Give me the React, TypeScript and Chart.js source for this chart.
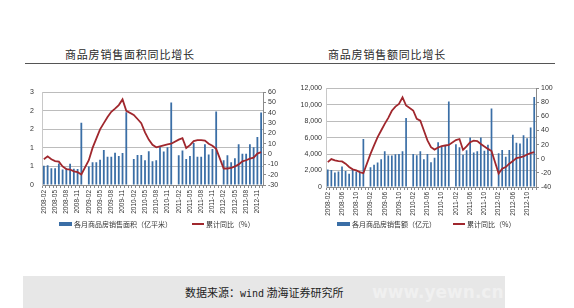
import React, { useEffect, useRef } from "react";
import { Chart, registerables } from "chart.js";

Chart.register(...registerables);

// Monthly categories, 2008-02 .. 2012-12 (January figures are merged into February)
const months = [
  "2008-02", "2008-03", "2008-04", "2008-05", "2008-06", "2008-07", "2008-08", "2008-09", "2008-10", "2008-11", "2008-12",
  "2009-01", "2009-02", "2009-03", "2009-04", "2009-05", "2009-06", "2009-07", "2009-08", "2009-09", "2009-10", "2009-11", "2009-12",
  "2010-01", "2010-02", "2010-03", "2010-04", "2010-05", "2010-06", "2010-07", "2010-08", "2010-09", "2010-10", "2010-11", "2010-12",
  "2011-01", "2011-02", "2011-03", "2011-04", "2011-05", "2011-06", "2011-07", "2011-08", "2011-09", "2011-10", "2011-11", "2011-12",
  "2012-01", "2012-02", "2012-03", "2012-04", "2012-05", "2012-06", "2012-07", "2012-08", "2012-09", "2012-10", "2012-11", "2012-12",
];

// 各月商品房销售面积（亿平米）
const areaMonthly = [
  0.52, 0.53, 0.45, 0.45, 0.58, 0.42, 0.45, 0.57, 0.44, 0.43, 1.68,
  null, 0.50, 0.61, 0.61, 0.68, 0.94, 0.76, 0.76, 0.87, 0.78, 0.86, 1.96,
  null, 0.70, 0.81, 0.81, 0.67, 0.91, 0.64, 0.67, 1.05, 0.90, 1.02, 2.22,
  null, 0.80, 0.93, 0.70, 0.78, 1.13, 0.76, 0.76, 1.10, 0.82, 0.97, 1.98,
  null, 0.67, 0.80, 0.61, 0.72, 1.10, 0.84, 0.84, 1.10, 1.02, 1.29, 1.95,
];

// 销售面积累计同比（%）
const areaYoY = [
  -5, -2.2, -5, -6.8, -7.4, -12, -14.5, -15, -16.7, -17.6, -19.8,
  null, -6, 6, 15, 24, 30, 36, 41, 44, 47.5, 53, 42,
  null, 38, 34, 30, 21, 14, 9, 6.5, 7.5, 8.5, 9.5, 10,
  null, 14, 15.4, 5.8, 8.6, 12.6, 13.5, 13.5, 13, 10, 8, 5,
  null, -14, -14, -13.5, -12, -10, -7, -6, -4.5, -3.5, 0.5, 1.8,
];

// 各月商品房销售额（亿元）
const salesMonthly = [
  2130, 2050, 1770, 1890, 2500, 1930, 1610, 2090, 1890, 1810, 5840,
  null, 2410, 2700, 2980, 3380, 4350, 3820, 3820, 3980, 4020, 4350, 8370,
  null, 4020, 3860, 4350, 3380, 4020, 3020, 3540, 5430, 4900, 5110, 10380,
  null, 5180, 4840, 3930, 4470, 6010, 4180, 4350, 6010, 4400, 5140, 9520,
  null, 4100, 4500, 3670, 4480, 6350, 5380, 5280, 6290, 5910, 7220, 10930,
];

// 销售额累计同比（%）
const salesYoY = [
  -4.7, -0.5, -2.3, -3.3, -3.7, -7, -11.7, -15, -16.5, -18.8, -20.5,
  null, 7, 19, 30.7, 40, 49.5, 58, 68, 74, 77.8, 87, 75.5,
  null, 68.4, 56.6, 54, 40, 26, 16.5, 13, 16, 18, 18.8, 19.5,
  null, 26.5, 28, 12.5, 17.5, 23.5, 25.8, 25, 21, 17.4, 14, 11,
  null, -21, -14, -11.8, -7, -3.3, 1, 2, 3.3, 6, 8, 9.5,
];

// Left-axis tick text of the area chart (0 .. 2.5 in steps of 0.5, shown without decimals)
const areaAxisLabels = ["0", "1", "1", "2", "2", "3"];

const BAR_COLOR = "#3a6ea6";
const LINE_COLOR = "#a0272d";
const TICK_FONT = "'Liberation Sans', Arial, sans-serif";
const CJK_FONT = "'Noto Sans CJK SC', 'Noto Sans', sans-serif";

type AxisSpec = {
  min: number;
  max: number;
  step: number;
  label: (v: number, i: number) => string;
};

type ComboProps = {
  left: number;
  top: number;
  width: number;
  height: number;
  bars: (number | null)[];
  line: (number | null)[];
  labelEvery: number;
  yLeft: AxisSpec;
  yRight: AxisSpec;
  leftWidth: number;
  rightWidth: number;
  xHeight: number;
  leftPad: number;
};

function ComboChart(p: ComboProps) {
  const ref = useRef<HTMLCanvasElement | null>(null);

  useEffect(() => {
    if (!ref.current) return;
    const chart = new Chart(ref.current, {
      type: "bar",
      data: {
        labels: months,
        datasets: [
          {
            type: "line",
            data: p.line,
            yAxisID: "y1",
            borderColor: LINE_COLOR,
            borderWidth: 1.8,
            pointRadius: 0,
            spanGaps: true,
            tension: 0,
            order: 0,
          } as any,
          {
            type: "bar",
            data: p.bars,
            yAxisID: "y",
            backgroundColor: BAR_COLOR,
            categoryPercentage: 1,
            barPercentage: 0.48,
            order: 1,
          } as any,
        ],
      },
      options: {
        responsive: false,
        animation: false,
        layout: { padding: { top: 8, left: 0, right: 0, bottom: 0 } },
        plugins: { legend: { display: false }, tooltip: { enabled: false } },
        scales: {
          x: {
            grid: { display: true, drawOnChartArea: false, tickLength: 3, color: "#8a8a8a" },
            border: { color: "#8a8a8a" },
            ticks: {
              autoSkip: false,
              minRotation: 90,
              maxRotation: 90,
              padding: 2,
              color: "#333",
              font: { size: 6.5, family: TICK_FONT },
              callback: (_v: any, i: number) => (i % p.labelEvery === 0 ? months[i] : ""),
            },
            afterFit: (s: any) => {
              s.height = p.xHeight;
            },
          },
          y: {
            position: "left",
            min: p.yLeft.min,
            max: p.yLeft.max,
            ticks: {
              autoSkip: false,
              stepSize: p.yLeft.step,
              padding: p.leftPad,
              color: "#333",
              font: { size: 7, family: TICK_FONT },
              callback: (v: any, i: number) => p.yLeft.label(Number(v), i),
            },
            grid: { color: "#bcbcbc", drawTicks: false, lineWidth: 1 },
            border: { display: true, color: "#c8c8c8" },
            afterFit: (s: any) => {
              s.width = p.leftWidth;
            },
          },
          y1: {
            position: "right",
            min: p.yRight.min,
            max: p.yRight.max,
            ticks: {
              autoSkip: false,
              stepSize: p.yRight.step,
              padding: 2,
              color: "#333",
              font: { size: 7, family: TICK_FONT },
              callback: (v: any, i: number) => p.yRight.label(Number(v), i),
            },
            grid: { drawOnChartArea: false, tickLength: 3, color: "#8a8a8a" },
            border: { color: "#8a8a8a" },
            afterFit: (s: any) => {
              s.width = p.rightWidth;
            },
          },
        },
      } as any,
    });
    return () => chart.destroy();
  }, []);

  return (
    <canvas
      ref={ref}
      width={p.width}
      height={p.height}
      style={{ position: "absolute", left: p.left, top: p.top, width: p.width, height: p.height, display: "block" }}
    />
  );
}

function Legend({ x, y, barText, lineX, lineText }: { x: number; y: number; barText: string; lineX: number; lineText: string }) {
  const text: React.CSSProperties = {
    position: "absolute",
    top: y - 5,
    fontSize: 7,
    lineHeight: "10px",
    fontFamily: CJK_FONT,
    color: "#333",
    whiteSpace: "nowrap",
  };
  return (
    <>
      <div style={{ position: "absolute", left: x, top: y - 2, width: 13, height: 4, background: BAR_COLOR }} />
      <div style={{ ...text, left: x + 15 }}>{barText}</div>
      <div style={{ position: "absolute", left: lineX, top: y - 1, width: 12, height: 1.6, background: LINE_COLOR }} />
      <div style={{ ...text, left: lineX + 14 }}>{lineText}</div>
    </>
  );
}

export default function App() {
  const title: React.CSSProperties = {
    position: "absolute",
    top: 46,
    fontSize: 11,
    lineHeight: "16px",
    letterSpacing: 0.8,
    fontFamily: CJK_FONT,
    color: "#2a2a2a",
    whiteSpace: "nowrap",
  };
  return (
    <div
      style={{
        position: "fixed",
        left: 0,
        top: 0,
        width: 574,
        height: 308,
        background: "#fff",
        overflow: "hidden",
      }}
    >
      <div style={{ ...title, left: 65 }}>商品房销售面积同比增长</div>
      <div style={{ ...title, left: 328 }}>商品房销售额同比增长</div>
      <div style={{ position: "absolute", left: 25, top: 63, width: 530, height: 1, background: "#555" }} />

      <ComboChart
        left={0}
        top={80}
        width={290}
        height={145}
        bars={areaMonthly}
        line={areaYoY}
        labelEvery={3}
        yLeft={{ min: 0, max: 2.5, step: 0.5, label: (_v, i) => areaAxisLabels[i] ?? "" }}
        yRight={{ min: -30, max: 60, step: 10, label: (v) => String(v) }}
        leftWidth={42}
        rightWidth={27}
        xHeight={40}
        leftPad={8}
      />
      <ComboChart
        left={287}
        top={80}
        width={287}
        height={147}
        bars={salesMonthly}
        line={salesYoY}
        labelEvery={4}
        yLeft={{ min: 0, max: 12000, step: 2000, label: (v) => v.toLocaleString("en-US") }}
        yRight={{ min: -40, max: 100, step: 20, label: (v) => String(v) }}
        leftWidth={39}
        rightWidth={38}
        xHeight={40}
        leftPad={4}
      />

      <Legend x={59} y={224} barText="各月商品房销售面积（亿平米）" lineX={192} lineText="累计同比（%）" />
      <Legend x={337} y={224} barText="各月商品房销售额（亿元）" lineX={453} lineText="累计同比（%）" />

      <div style={{ position: "absolute", left: 23, top: 276, width: 482, height: 32, background: "#e7e7e7" }} />
      <div
        style={{
          position: "absolute",
          left: 372,
          top: 281,
          fontSize: 17,
          fontWeight: 700,
          lineHeight: "22px",
          fontFamily: "'DejaVu Sans', sans-serif",
          color: "#f0f0f0",
          whiteSpace: "nowrap",
        }}
      >
        www.yewn.cn
      </div>
      <div
        style={{
          position: "absolute",
          left: 185,
          top: 285,
          fontSize: 11,
          lineHeight: "15px",
          fontFamily: CJK_FONT,
          color: "#222",
          whiteSpace: "nowrap",
        }}
      >
        数据来源：<span style={{ fontFamily: "'DejaVu Sans Mono', monospace", fontSize: 10 }}>wind</span> 渤海证券研究所
      </div>
    </div>
  );
}
